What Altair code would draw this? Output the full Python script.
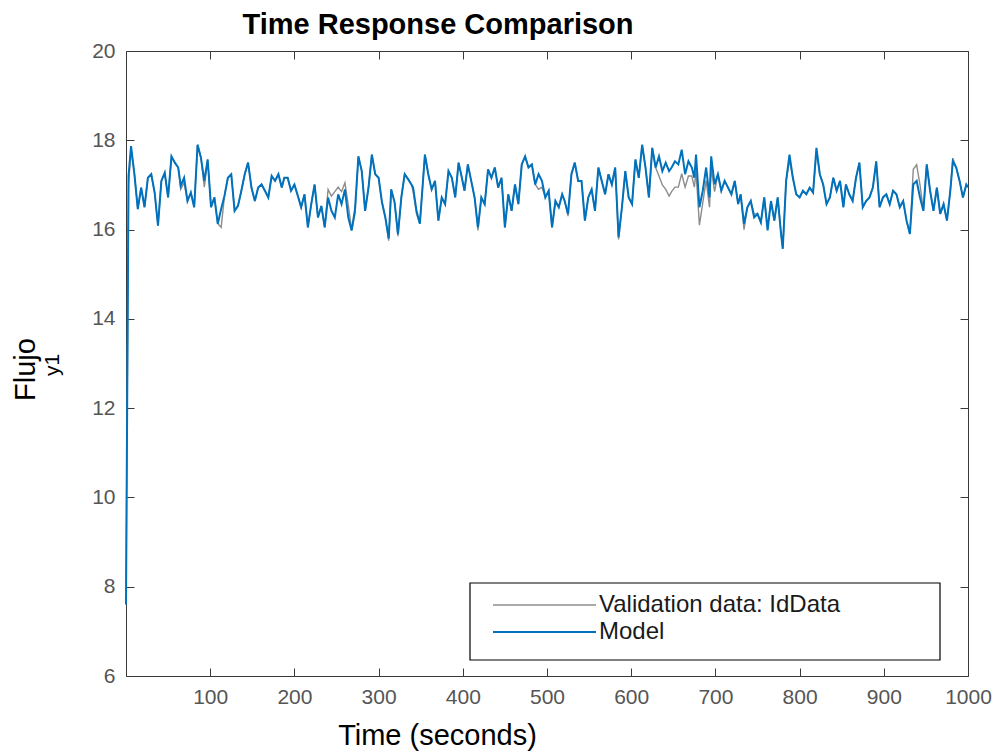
import altair as alt
import pandas as pd

# ---------------- data ----------------
TIME = [0, 3, 6, 10, 14, 18, 22, 26, 30, 34, 38, 42, 46, 50, 54, 58, 62, 65, 69, 73,
        77, 81, 85, 89, 93, 97, 101, 105, 109, 113, 117, 121, 125, 129, 133, 137, 141, 145, 149, 153,
        157, 161, 165, 169, 173, 177, 181, 185, 188, 192, 196, 200, 204, 208, 212, 216, 220, 224, 228, 232,
        236, 240, 244, 248, 252, 256, 260, 264, 268, 272, 276, 280, 284, 288, 292, 296, 300, 304, 308, 312,
        315, 319, 323, 327, 331, 335, 339,
        341, 345, 349, 353, 355, 359, 363, 367, 371, 375, 379, 383, 387, 391, 395, 398, 402, 406, 410, 414,
        418, 422, 426, 430, 434, 438, 442, 446, 450, 454, 458, 462, 466, 470, 474, 478, 482, 486, 490, 494,
        498, 502, 506, 510, 514, 518, 521, 525, 529, 533, 537, 541, 545, 549, 553, 557, 561, 565, 569, 573,
        577, 581, 585, 589, 593, 597, 601, 605, 609, 613, 617, 621, 625, 629, 633, 637, 641, 645, 648, 652,
        656, 660, 664, 668, 672,
        675, 677, 681, 685, 689, 693, 695, 699, 703, 707, 711, 715, 719, 723, 727, 730, 734, 738, 742, 746,
        750, 754, 758, 762, 766, 770, 774, 778, 780, 784, 788, 792, 796, 800, 804, 808, 812, 816, 820, 824,
        828, 832, 836, 840, 844, 848, 852, 855, 859, 863, 867, 871, 875, 879, 883, 887, 891, 895, 899, 903,
        907, 911, 915, 919, 923, 927, 931, 935, 939, 943, 947, 951, 955, 959, 963, 967, 971, 975, 979, 982,
        986, 990, 994, 998, 1000]

MODEL = [7.6, 17.2, 17.87, 17.24, 16.46, 16.94, 16.50, 17.16, 17.24, 16.83, 16.09, 17.09, 17.27, 16.72, 17.64, 17.50, 17.39, 16.98, 17.16, 16.64,
         16.83, 16.50, 17.90, 17.61, 17.09, 17.57, 16.50, 16.72, 16.13, 16.46, 16.76, 17.16, 17.24, 16.42, 16.53, 16.87, 17.24, 17.50, 16.94, 16.64,
         16.94, 17.01, 16.87, 16.72, 17.20, 17.09, 17.24, 16.94, 17.16, 17.16, 16.87, 17.01, 16.76, 16.50, 16.79, 16.05, 16.57, 17.01, 16.27, 16.53,
         16.05, 16.72, 16.42, 16.27, 16.79, 16.57, 16.90, 16.27, 15.98, 16.46, 17.64, 17.31, 16.42, 16.94, 17.68, 17.24, 17.16, 16.61, 16.27, 15.80,
         16.90, 16.61, 15.90, 16.72, 17.24, 17.13, 17.01,
         16.94, 16.42, 16.13, 17.16, 17.68, 17.24, 16.90, 17.09, 16.20, 16.72, 16.57, 17.31, 17.16, 16.72, 17.50, 17.24, 16.87, 17.46, 17.09, 16.72,
         16.05, 16.72, 16.57, 17.35, 17.16, 17.39, 16.94, 17.16, 16.05, 16.79, 16.42, 17.01, 16.57, 17.46, 17.64, 17.39, 17.46, 17.01, 17.24, 17.09,
         16.72, 16.87, 16.05, 16.64, 16.50, 16.79, 16.64, 16.35, 17.24, 17.50, 17.09, 17.09, 16.20, 16.72, 16.90, 16.42, 17.39, 17.09, 16.79, 17.24,
         17.01, 17.39, 15.83, 16.50, 17.31, 16.72, 16.57, 17.57, 17.16, 17.90, 17.39, 16.72, 17.83, 17.39, 17.64, 17.31, 17.50, 17.31, 17.39, 17.53,
         17.46, 17.79, 17.24, 17.53, 17.39,
         17.16, 17.68, 16.50, 16.87, 17.39, 16.72, 17.64, 17.01, 17.24, 16.87, 17.09, 16.94, 16.79, 17.09, 16.57, 16.79, 16.13, 16.50, 16.64, 16.27,
         16.35, 16.16, 16.72, 15.98, 16.64, 16.20, 16.72, 15.90, 15.57, 17.09, 17.68, 17.16, 16.79, 16.72, 16.87, 16.79, 16.94, 16.83, 17.83, 17.24,
         17.01, 16.57, 16.72, 17.16, 16.87, 17.09, 16.50, 17.01, 16.79, 16.64, 17.16, 17.50, 16.50, 16.64, 16.72, 16.94, 17.53, 16.50, 16.72, 16.79,
         16.57, 16.87, 16.79, 16.50, 16.64, 16.20, 15.90, 17.01, 17.09, 16.72, 16.42, 17.46, 16.87, 16.42, 16.94, 16.35, 16.57, 16.20, 16.87, 17.53,
         17.39, 17.09, 16.72, 17.01, 16.95]

VALIDATION = [7.7, 17.0, 17.8, 17.24, 16.46, 16.94, 16.50, 17.16, 17.24, 16.83, 16.09, 17.09, 17.27, 16.72, 17.64, 17.50, 17.39, 16.90, 17.05, 16.64,
              16.83, 16.50, 17.90, 17.61, 16.95, 17.57, 16.50, 16.72, 16.13, 16.05, 16.76, 17.16, 17.24, 16.42, 16.53, 16.87, 17.24, 17.50, 16.94, 16.64,
              16.94, 17.01, 16.87, 16.72, 17.20, 17.09, 17.24, 16.94, 17.16, 17.16, 16.87, 17.01, 16.76, 16.50, 16.79, 16.05, 16.57, 17.01, 16.27, 16.53,
              16.05, 16.90, 16.75, 16.85, 16.95, 16.85, 17.05, 16.55, 15.98, 16.35, 17.64, 17.31, 16.42, 16.94, 17.68, 17.24, 17.16, 16.61, 16.27, 15.75,
              16.90, 16.61, 15.85, 16.72, 17.24, 17.13, 17.01,
              16.85, 16.35, 16.13, 17.16, 17.68, 17.24, 16.90, 17.09, 16.20, 16.72, 16.57, 17.31, 17.16, 16.72, 17.50, 17.24, 16.87, 17.46, 17.09, 16.72,
              15.98, 16.72, 16.57, 17.35, 17.16, 17.39, 16.94, 17.16, 16.05, 16.79, 16.42, 17.01, 16.57, 17.46, 17.64, 17.39, 17.46, 17.01, 16.90, 16.95,
              16.72, 16.87, 16.05, 16.64, 16.50, 16.79, 16.64, 16.30, 17.24, 17.50, 17.09, 17.09, 16.20, 16.72, 16.90, 16.42, 17.39, 17.09, 16.79, 17.24,
              17.01, 17.39, 15.78, 16.50, 17.31, 16.72, 16.57, 17.57, 17.16, 17.90, 17.39, 16.72, 17.83, 17.39, 17.20, 17.00, 16.90, 16.75, 16.85, 16.95,
              16.95, 17.25, 16.95, 17.20, 17.20,
              16.95, 17.30, 16.10, 16.60, 17.10, 16.50, 17.40, 16.85, 17.24, 16.87, 17.09, 16.94, 16.79, 17.09, 16.57, 16.79, 16.00, 16.50, 16.64, 16.35,
              16.35, 16.16, 16.72, 16.05, 16.64, 16.20, 16.72, 15.90, 15.57, 17.09, 17.55, 17.16, 16.79, 16.72, 16.87, 16.79, 16.94, 16.83, 17.75, 17.24,
              17.01, 16.57, 16.72, 17.16, 16.87, 17.09, 16.50, 17.01, 16.79, 16.64, 17.16, 17.50, 16.50, 16.64, 16.72, 16.94, 17.53, 16.50, 16.72, 16.79,
              16.57, 16.87, 16.79, 16.50, 16.64, 16.20, 15.90, 17.35, 17.45, 17.00, 16.42, 17.46, 16.87, 16.42, 16.94, 16.35, 16.57, 16.20, 16.87, 17.60,
              17.39, 17.09, 16.72, 17.01, 16.95]

X_TICKS = [100, 200, 300, 400, 500, 600, 700, 800, 900, 1000]
Y_TICKS = [6, 8, 10, 12, 14, 16, 18, 20]
X_DOMAIN = [0, 1000]
Y_DOMAIN = [6, 20]

TITLE = "Time Response Comparison"
X_TITLE = "Time (seconds)"
Y_TITLE = "Flujo"
Y_SUB = "y1"
LEGEND_LABELS = ["Validation data: IdData", "Model"]
COLORS = ["#8c8c8c", "#0072BD"]
WIDTHS = [1.4, 2.0]

# ---------------- layout / style ----------------
W, H = 842, 625
FONT = "Liberation Sans"
LABEL_COLOR = "#555555"
FRAME_COLOR = "#3a3a3a"

df = pd.DataFrame({"t": TIME, "model": MODEL, "validation": VALIDATION})
legend_df = pd.DataFrame({"label": LEGEND_LABELS})
sub_df = pd.DataFrame({"label": [Y_SUB]})
title_df = pd.DataFrame({"label": [TITLE]})

xs = alt.Scale(domain=X_DOMAIN, nice=False, zero=False)
ys = alt.Scale(domain=Y_DOMAIN, nice=False, zero=False)

# axes carrying labels (no ticks)
x_lab = alt.Axis(orient="bottom", values=X_TICKS, format="d", ticks=False, domain=False, grid=False,
                 labelPadding=10, labelFontSize=21, labelColor=LABEL_COLOR, labelFlush=False,
                 labelOverlap=False, title=X_TITLE, titleFontSize=29, titleFontWeight="normal",
                 titleColor="#000000", titleX=311, titleY=68, titleAlign="center",
                 titleBaseline="alphabetic")
y_lab = alt.Axis(orient="left", values=Y_TICKS, format="d", ticks=False, domain=False, grid=False,
                 labelPadding=11, labelFontSize=21, labelColor=LABEL_COLOR, labelFlush=False,
                 labelOverlap=False, title=Y_TITLE, titleFontSize=29, titleFontWeight="normal",
                 titleColor="#000000", titleAngle=270, titleX=-92, titleY=318, titleAlign="center",
                 titleBaseline="alphabetic")


def tick_axis(orient, values, offset):
    return alt.Axis(orient=orient, values=values, offset=offset, labels=False, ticks=True,
                    tickSize=8, tickColor=FRAME_COLOR, tickWidth=1, domain=False, grid=False,
                    title=None)


validation_line = alt.Chart(df).mark_line(color=COLORS[0], strokeWidth=WIDTHS[0]).encode(
    x=alt.X("t:Q", scale=xs, axis=x_lab),
    y=alt.Y("validation:Q", scale=ys, axis=y_lab),
)

model_line = alt.Chart(df).mark_line(color=COLORS[1], strokeWidth=WIDTHS[1]).encode(
    x=alt.X("t:Q", scale=xs, axis=tick_axis("top", X_TICKS, -H)),
    y=alt.Y("model:Q", scale=ys, axis=tick_axis("right", Y_TICKS, -W)),
)

ghost = alt.Chart(df).mark_line(strokeOpacity=0).encode(
    x=alt.X("t:Q", scale=xs, axis=tick_axis("bottom", X_TICKS, -H)),
    y=alt.Y("model:Q", scale=ys, axis=tick_axis("left", Y_TICKS, -W)),
)

title_text = alt.Chart(title_df).mark_text(fontSize=29, fontWeight="bold", font=FONT, color="#000000",
                                           align="center", baseline="alphabetic").encode(
    x=alt.value(312), y=alt.value(-17), text="label:N"
)

sub_label = alt.Chart(sub_df).mark_text(angle=270, fontSize=21, font=FONT, color="#000000",
                                        align="center", baseline="alphabetic").encode(
    x=alt.value(-67), y=alt.value(314), text="label:N"
)

legend_box = alt.Chart(legend_df.head(1)).mark_rect(fill="white", stroke="#000000", strokeWidth=1.2).encode(
    x=alt.value(344), x2=alt.value(814), y=alt.value(532), y2=alt.value(609)
)

leg_y = alt.Y("label:N", scale=alt.Scale(type="point", domain=LEGEND_LABELS, range=[554, 581], padding=0),
              axis=None)
legend_lines = alt.Chart(legend_df).mark_rule().encode(
    x=alt.value(367), x2=alt.value(470), y=leg_y,
    color=alt.Color("label:N", scale=alt.Scale(domain=LEGEND_LABELS, range=COLORS), legend=None),
    strokeWidth=alt.StrokeWidth("label:N", scale=alt.Scale(domain=LEGEND_LABELS, range=WIDTHS), legend=None),
)
legend_text = alt.Chart(legend_df).mark_text(align="left", baseline="middle", fontSize=24, font=FONT,
                                             color="#1a1a1a").encode(
    x=alt.value(473), y=leg_y, text="label:N"
)

chart = (
    alt.layer(validation_line, model_line, ghost, title_text, sub_label, legend_box, legend_lines, legend_text)
    .resolve_scale(x="independent", y="independent")
    .resolve_axis(x="independent", y="independent")
    .properties(
        width=W, height=H,
        autosize=alt.AutoSizeParams(type="none"),
        padding={"left": 126, "top": 51, "right": 32, "bottom": 75},
    )
    .configure(font=FONT, background="white")
    .configure_view(stroke=FRAME_COLOR, strokeWidth=1)
)

chart.save("out.html", embed_options={"renderer": "svg", "actions": False})
